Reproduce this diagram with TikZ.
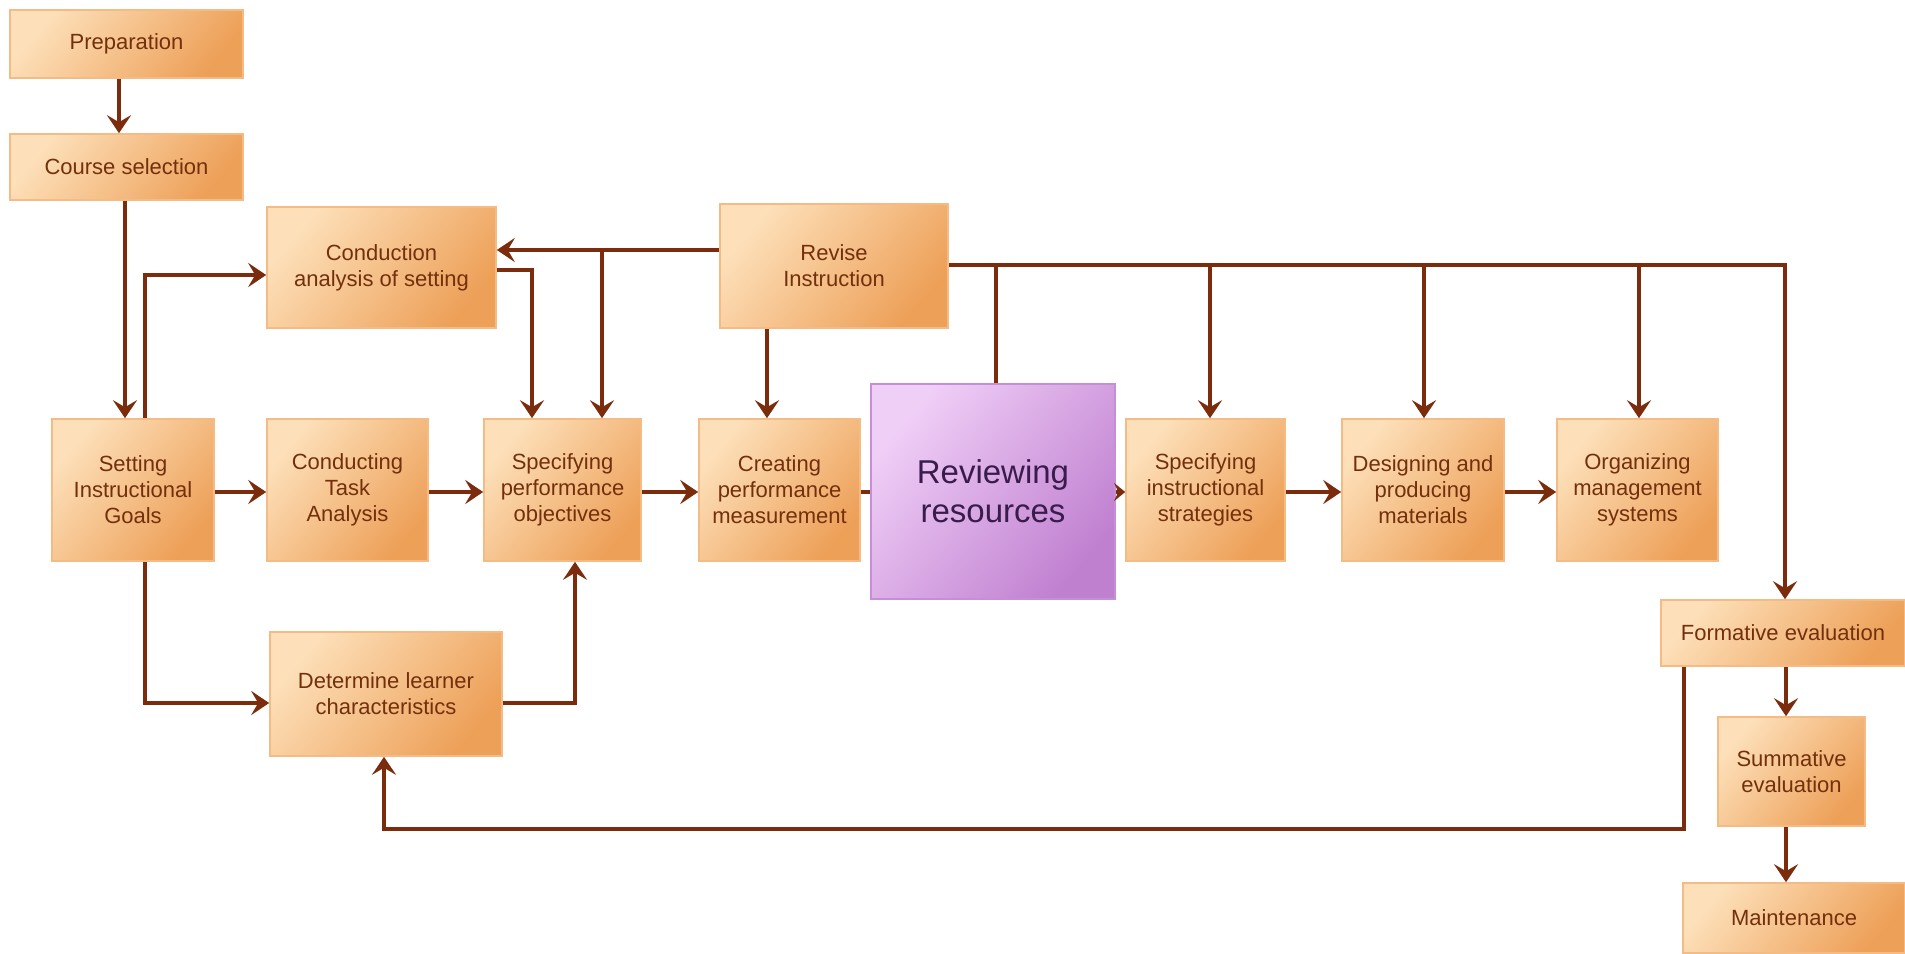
\documentclass[tikz,border=0pt]{standalone}
\usepackage{fontspec}
\setmainfont{Liberation Sans}
\usetikzlibrary{arrows.meta}
\definecolor{lc}{HTML}{7A2C0C}
\definecolor{tc}{HTML}{73300C}
\definecolor{boxL}{HTML}{FDE0BA}
\definecolor{boxR}{HTML}{EDA058}
\definecolor{boxE}{HTML}{F4BC84}
\definecolor{purL}{HTML}{F0CFF7}
\definecolor{purR}{HTML}{C080D0}
\definecolor{purE}{HTML}{C68ED6}
\definecolor{ptc}{HTML}{3A1C4C}
\begin{document}
\begin{tikzpicture}[x=0.5pt,y=-0.5pt,
  sz/.style 2 args={minimum width=#1*0.5pt, minimum height=#2*0.5pt},
  box/.style={rectangle, inner sep=0pt, draw=boxE, line width=0.8pt,
    top color=boxL, bottom color=boxR, shading angle=50, text=tc,
    font=\fontsize{11}{13}\selectfont, align=center},
  pbox/.style={rectangle, inner sep=0pt, draw=purE, line width=1pt,
    top color=purL, bottom color=purR, shading angle=50, text=ptc,
    font=\fontsize{16.5}{19.5}\selectfont, align=center},
  conn/.style={draw=lc, line width=2pt},
  arr/.style={conn, -{Stealth[length=9pt,width=12pt,inset=3.5pt]}},
  sarr/.style={conn, -{Stealth[length=5.5pt,width=9pt,inset=2pt]}}]
\fill[white] (0,0) rectangle (1905,953);
\useasboundingbox (0,0) rectangle (1905,953);

% nodes
\node[box, sz={233}{68}]  (prep)   at (126.5,44)   {Preparation};
\node[box, sz={233}{66}]  (course) at (126.5,167)  {Course selection};
\node[box, sz={229}{121}] (cond)   at (381.5,267.5){Conduction\\analysis of setting};
\node[box, sz={228}{124}] (rev)    at (834,266)    {Revise\\Instruction};
\node[box, sz={162}{142}] (goals)  at (133,490)    {Setting\\Instructional\\Goals};
\node[box, sz={161}{142}] (task)   at (347.5,490)  {Conducting\\Task\\Analysis};
\node[box, sz={157}{142}] (perf)   at (562.5,490)  {Specifying\\performance\\objectives};
\node[box, sz={161}{142}] (meas)   at (779.5,490)  {Creating\\performance\\measurement};
\node[pbox, sz={244}{215}] (res)   at (993,491.5)  {Reviewing\\resources};
\node[box, sz={159}{142}] (strat)  at (1205.5,490) {Specifying\\instructional\\strategies};
\node[box, sz={162}{142}] (mat)    at (1423,490)   {Designing and\\producing\\materials};
\node[box, sz={161}{142}] (mgmt)   at (1637.5,490) {Organizing\\management\\systems};
\node[box, sz={232}{124}] (learn)  at (386,694)    {Determine learner\\characteristics};
\node[box, sz={244}{66}]  (form)   at (1783,633)   {Formative evaluation};
\node[box, sz={147}{109}] (summ)   at (1791.5,771.5){Summative\\evaluation};
\node[box, sz={222}{70}]  (maint)  at (1794,918)   {Maintenance};

% helper coordinates
\coordinate (x119) at (119,0);
\coordinate (x125) at (125,0);
\coordinate (x145) at (145,0);
\coordinate (x532) at (532,0);
\coordinate (x575) at (575,0);
\coordinate (x767) at (767,0);
\coordinate (x384) at (384,0);
\coordinate (x1684) at (1684,0);
\coordinate (x1785) at (1785,0);
\coordinate (x1786) at (1786,0);
\coordinate (y250) at (0,250);
\coordinate (y265) at (0,265);
\coordinate (y270) at (0,270);
\coordinate (y275) at (0,275);
\coordinate (y492) at (0,492);
\coordinate (y703) at (0,703);
\coordinate (y829) at (0,829);
\coordinate (j1) at (602,250);
\coordinate (j2) at (996,265);
\coordinate (j3) at (1210,265);
\coordinate (j4) at (1424,265);
\coordinate (j5) at (1639,265);

% connectors
\draw[arr] (prep.south -| x119) -- (course.north -| x119);
\draw[arr] (course.south -| x125) -- (goals.north -| x125);
\draw[arr] (goals.north -| x145) |- (cond.west |- y275);
\draw[arr] (rev.west |- y250) -- (cond.east |- y250);
\draw[arr] (j1) -- (perf.north -| j1);
\draw[arr] (cond.east |- y270) -| (perf.north -| x532);
\draw[arr] (rev.south -| x767) -- (meas.north -| x767);
\draw[arr] (rev.east |- y265) -| (form.north -| x1785);
\draw[conn] (j2) -- (res.north -| j2);
\draw[arr] (j3) -- (strat.north -| j3);
\draw[arr] (j4) -- (mat.north -| j4);
\draw[arr] (j5) -- (mgmt.north -| j5);

\draw[arr] (goals.east |- y492) -- (task.west |- y492);
\draw[arr] (task.east |- y492) -- (perf.west |- y492);
\draw[arr] (perf.east |- y492) -- (meas.west |- y492);
\draw[conn] (meas.east |- y492) -- (res.west |- y492);
\draw[sarr] (res.east |- y492) -- (strat.west |- y492);
\draw[arr] (strat.east |- y492) -- (mat.west |- y492);
\draw[arr] (mat.east |- y492) -- (mgmt.west |- y492);

\draw[arr] (goals.south -| x145) |- (learn.west |- y703);
\draw[arr] (learn.east |- y703) -| (perf.south -| x575);
\draw[arr] (form.south -| x1684) -- (x1684 |- y829) -| (learn.south -| x384);
\draw[arr] (form.south -| x1786) -- (summ.north -| x1786);
\draw[arr] (summ.south -| x1786) -- (maint.north -| x1786);
\end{tikzpicture}
\end{document}
